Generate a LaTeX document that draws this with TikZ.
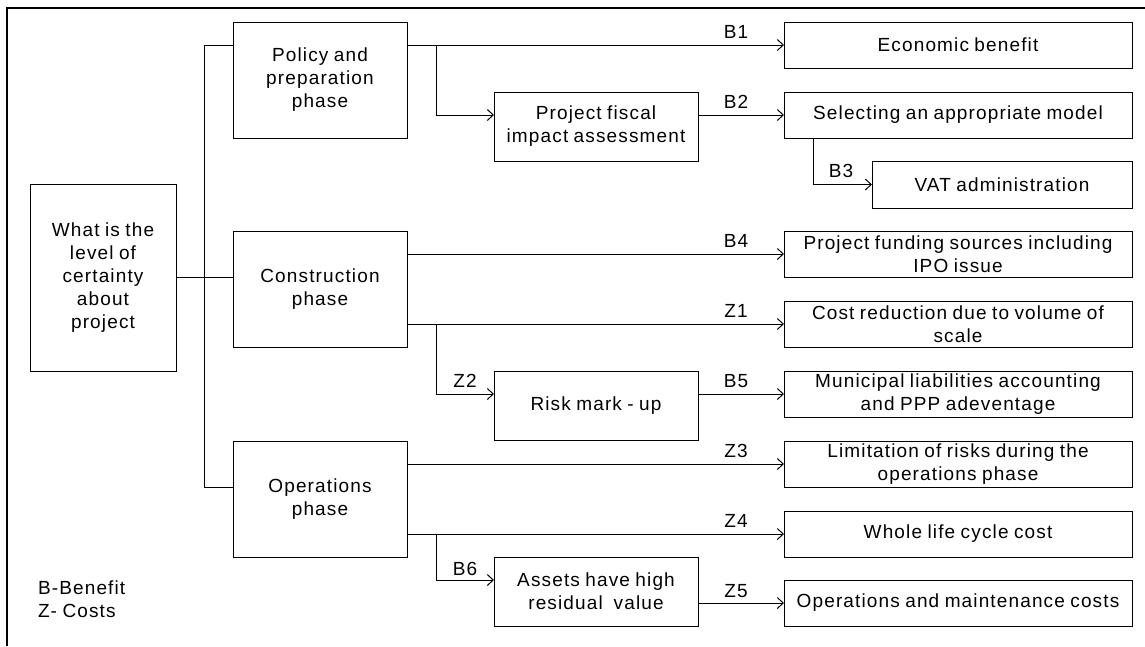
\documentclass[tikz,border=0pt]{standalone}
\usepackage{fontspec}
\setmainfont[LetterSpace=6,WordSpace=0.85]{Liberation Sans}
\usetikzlibrary{arrows.meta}
\begin{document}
\begin{tikzpicture}[x=1pt,y=-1pt,
  every node/.style={inner sep=0pt,outer sep=0pt},
  bx/.style={draw,line width=1pt,rectangle,align=center,font=\fontsize{19}{23}\selectfont},
  phase/.style={bx,minimum width=174pt,minimum height=116pt},
  mid/.style={bx,minimum width=204pt,minimum height=69pt},
  res/.style={bx,minimum width=348pt,minimum height=46pt},
  lbl/.style={anchor=base,font=\fontsize{19}{23}\selectfont},
  conn/.style={line width=1pt},
  arr/.style={conn,-{Straight Barb[length=6pt,width=11pt]}}]
\useasboundingbox (0,0) rectangle (1145,646);
% frame
\draw[line width=2pt] (7,646) -- (7,8) -- (1145,8);
% nodes
\node[bx,minimum width=146pt,minimum height=187pt] (root) at (103,277.5) {What is the\\level of\\certainty\\about\\project};
\node[phase] (pol) at (320,80) {Policy and\\preparation\\phase};
\node[phase] (cons) at (320,289) {Construction\\phase};
\node[phase] (ops) at (320,499) {Operations\\phase};
\node[mid] (fisc) at (596,126.5) {Project fiscal\\impact assessment};
\node[mid] (risk) at (596,405.5) {Risk mark - up};
\node[mid] (ass) at (596,591.5) {Assets have high\\residual\ \ value};
\node[res] (econ) at (958,45) {Economic benefit};
\node[res] (sel) at (958,115) {Selecting an appropriate model};
\node[bx,minimum width=260pt,minimum height=47pt] (vat) at (1002,184.5) {VAT administration};
\node[res] (fund) at (958,254) {Project funding sources including\\IPO issue};
\node[res] (cost) at (958,324) {Cost reduction due to volume of\\scale};
\node[res] (muni) at (958,394) {Municipal liabilities accounting\\and PPP adeventage};
\node[res] (lim) at (958,464) {Limitation of risks during the\\operations phase};
\node[res] (whole) at (958,534) {Whole life cycle cost};
\node[res] (om) at (958,603) {Operations and maintenance costs};
% legend
\node[anchor=north west,align=left,font=\fontsize{19}{23}\selectfont] (leg) at (38,581) {B-Benefit\\Z- Costs};
% trunk
\coordinate (t1) at (204,45);
\coordinate (t2) at (204,487);
\draw[conn] (pol.west |- t1) -- (t1) -- (t2) -- (ops.west |- t2);
\draw[conn] (root.east) -- (root.east -| cons.west);
% policy
\coordinate (p1) at (436,45);
\draw[arr] (pol.east |- econ.west) -- (econ.west);
\draw[arr] (p1) |- ([yshift=11.5pt]fisc.west);
\draw[arr] (fisc.east |- sel.west) -- (sel.west);
\draw[arr] ([xshift=29pt]sel.south west) |- (vat.west);
% construction
\coordinate (c1) at (436,324);
\draw[arr] (cons.east |- fund.west) -- (fund.west);
\draw[arr] (cons.east |- cost.west) -- (cost.west);
\draw[arr] (c1) |- ([yshift=11.5pt]risk.west);
\draw[arr] (risk.east |- muni.west) -- (muni.west);
% operations
\coordinate (o1) at (436,534);
\draw[arr] (ops.east |- lim.west) -- (lim.west);
\draw[arr] (ops.east |- whole.west) -- (whole.west);
\draw[arr] (o1) |- ([yshift=11.5pt]ass.west);
\draw[arr] (ass.east |- om.west) -- (om.west);
% labels
\node[lbl] (lB1) at (736,38.5) {B1};
\node[lbl] (lB2) at (736,108.5) {B2};
\node[lbl] (lB3) at (841,177.5) {B3};
\node[lbl] (lB4) at (736,247.5) {B4};
\node[lbl] (lZ1) at (736,317.5) {Z1};
\node[lbl] (lZ2) at (465,387.5) {Z2};
\node[lbl] (lB5) at (736,387.5) {B5};
\node[lbl] (lZ3) at (736,457.5) {Z3};
\node[lbl] (lZ4) at (736,527.5) {Z4};
\node[lbl] (lB6) at (465,575.5) {B6};
\node[lbl] (lZ5) at (736,597.5) {Z5};
\end{tikzpicture}
\end{document}
